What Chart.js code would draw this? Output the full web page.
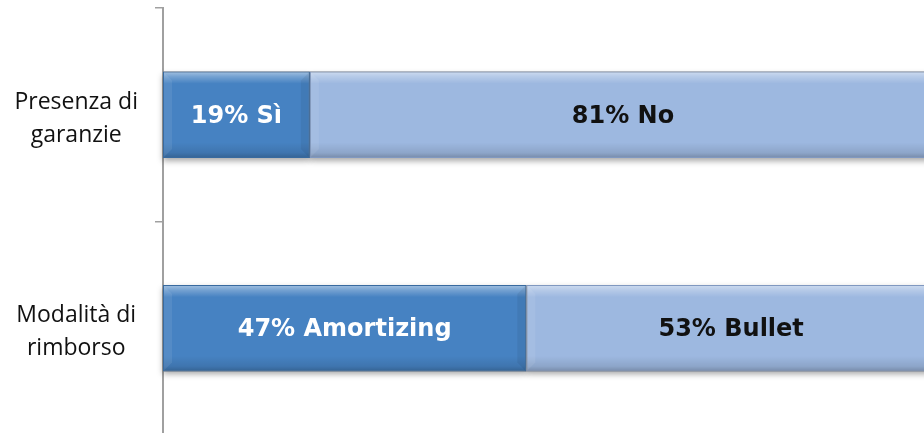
<!DOCTYPE html>
<html>
<head>
<meta charset="utf-8">
<script src="https://cdn.jsdelivr.net/npm/chart.js@4/dist/chart.umd.min.js"></script>
<style>
  html, body { margin: 0; padding: 0; background: #fff; overflow: hidden; }
  #wrap { width: 924px; height: 433px; overflow: hidden; }
</style>
</head>
<body>
<div id="wrap"><canvas id="grafico" width="936" height="435"></canvas></div>
<script>
// Dati
const categorie = [["Presenza di", "garanzie"], ["Modalità di", "rimborso"]];
const quotaPrima = [19, 47];
const quotaSeconda = [81, 53];
const nomiPrima = ["Sì", "Amortizing"];
const nomiSeconda = ["No", "Bullet"];

// ombra sotto le barre
const ombra = {
  id: "ombra",
  beforeDatasetsDraw(chart) {
    const ctx = chart.ctx;
    ctx.save();
    chart.data.datasets.forEach((ds, i) => {
      chart.getDatasetMeta(i).data.forEach(bar => {
        const l = Math.min(bar.x, bar.base), r = Math.max(bar.x, bar.base);
        const t = bar.y - bar.height / 2;
        ctx.shadowColor = "rgba(0,0,0,0.35)";
        ctx.shadowBlur = 6;
        ctx.shadowOffsetY = 3;
        ctx.fillStyle = "#888";
        ctx.fillRect(l, t, r - l, bar.height);
      });
    });
    ctx.restore();
  }
};

// effetto rilievo + etichette
const rilievo = {
  id: "rilievo",
  afterDatasetsDraw(chart) {
    const ctx = chart.ctx;
    chart.data.datasets.forEach((ds, i) => {
      chart.getDatasetMeta(i).data.forEach((bar, j) => {
        const l = Math.min(bar.x, bar.base), r = Math.max(bar.x, bar.base);
        const t = bar.y - bar.height / 2, h = bar.height;
        ctx.save();
        const g = ctx.createLinearGradient(0, t, 0, t + h);
        g.addColorStop(0, "rgba(255,255,255,0.5)");
        g.addColorStop(0.06, "rgba(255,255,255,0.25)");
        g.addColorStop(0.14, "rgba(255,255,255,0.0)");
        g.addColorStop(0.82, "rgba(0,0,0,0.0)");
        g.addColorStop(0.94, "rgba(0,0,0,0.10)");
        g.addColorStop(1, "rgba(0,0,0,0.25)");
        ctx.fillStyle = g;
        ctx.fillRect(l + 1, t + 1, r - l - 2, h - 2);
        // smussi laterali
        ctx.fillStyle = "rgba(255,255,255,0.08)";
        ctx.beginPath();
        ctx.moveTo(l + 1, t + 1); ctx.lineTo(l + 9, t + 9); ctx.lineTo(l + 9, t + h - 9); ctx.lineTo(l + 1, t + h - 1);
        ctx.closePath(); ctx.fill();
        ctx.fillStyle = "rgba(0,0,0,0.06)";
        ctx.beginPath();
        ctx.moveTo(r - 1, t + 1); ctx.lineTo(r - 9, t + 9); ctx.lineTo(r - 9, t + h - 9); ctx.lineTo(r - 1, t + h - 1);
        ctx.closePath(); ctx.fill();
        ctx.restore();

        // etichetta
        const testo = i === 0 ? quotaPrima[j] + "% " + nomiPrima[j] : quotaSeconda[j] + "% " + nomiSeconda[j];
        ctx.save();
        ctx.font = "bold 24px 'DejaVu Sans'";
        ctx.fillStyle = i === 0 ? "#ffffff" : "#111111";
        ctx.textAlign = "center";
        ctx.textBaseline = "middle";
        ctx.fillText(testo, (l + r) / 2, bar.y + 2);
        ctx.restore();
      });
    });
  }
};

new Chart(document.getElementById("grafico"), {
  type: "bar",
  data: {
    labels: categorie,
    datasets: [{
      label: "prima",
      data: quotaPrima,
      backgroundColor: "#4682c2",
      borderColor: "#386a9f",
      borderWidth: 1,
      borderSkipped: false,
      categoryPercentage: 1,
      barPercentage: 0.405
    }, {
      label: "seconda",
      data: quotaSeconda,
      backgroundColor: "#9db8e0",
      borderColor: "#8098c0",
      borderWidth: 1,
      borderSkipped: false,
      categoryPercentage: 1,
      barPercentage: 0.405
    }]
  },
  options: {
    indexAxis: "y",
    responsive: false,
    animation: false,
    layout: { padding: { top: 8, bottom: 0, left: 0, right: 0 } },
    plugins: { legend: { display: false }, tooltip: { enabled: false } },
    scales: {
      x: { stacked: true, display: false, min: 0, max: 100 },
      y: {
        stacked: true,
        afterFit(scale) {
          scale.width = 163;
          scale.paddingTop = 0;
          scale.paddingBottom = 0;
        },
        grid: { drawOnChartArea: false, drawTicks: true, tickLength: 8, color: "#a0a0a0", lineWidth: 1.5 },
        border: { display: true, color: "#a0a0a0", width: 2 },
        ticks: {
          crossAlign: "center",
          padding: 17,
          labelOffset: 4,
          color: "#111",
          font: { family: "'Open Sans'", size: 23, lineHeight: 1.43 }
        }
      }
    }
  },
  plugins: [ombra, rilievo]
});
</script>
</body>
</html>
